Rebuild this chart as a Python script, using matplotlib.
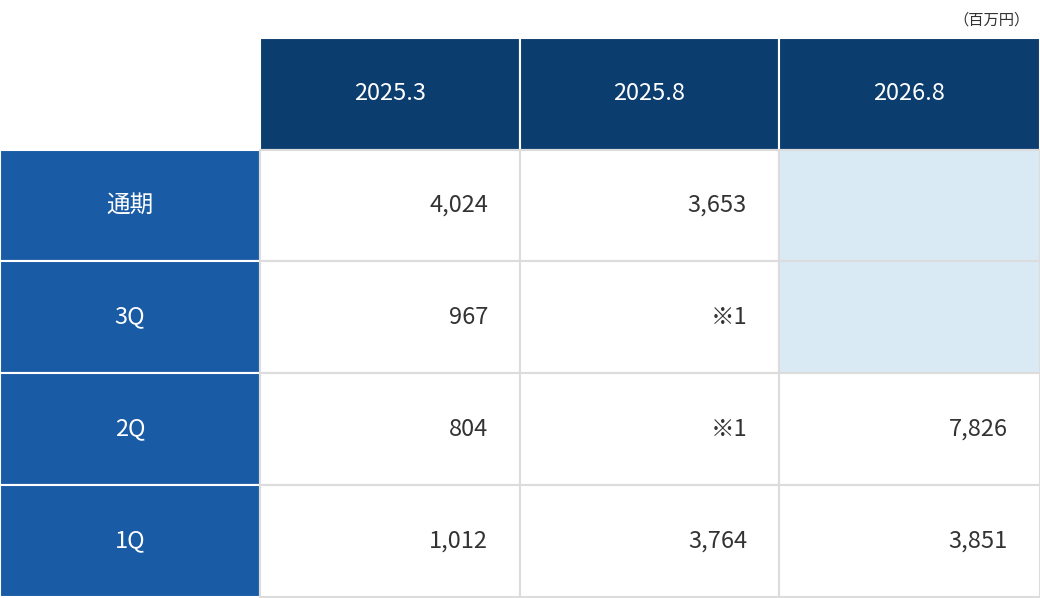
import matplotlib
matplotlib.use("Agg")
import matplotlib.pyplot as plt
from matplotlib.patches import Rectangle

plt.rcParams['font.family'] = ['Noto Sans CJK JP', 'DejaVu Sans']

columns = ["2025.3", "2025.8", "2026.8"]
rows = ["通期", "3Q", "2Q", "1Q"]
values = [
    ["4,024", "3,653", ""],
    ["967", "※1", ""],
    ["804", "※1", "7,826"],
    ["1,012", "3,764", "3,851"],
]
unit = "（百万円）"

fig = plt.figure(figsize=(10.4, 5.98), dpi=100)
ax = fig.add_axes([0, 0, 1, 1])
ax.set_xlim(0, 1040)
ax.set_ylim(598, 0)
ax.axis('off')

col_x = [0, 260, 520, 779, 1040]
row_y = [38, 150, 261, 373, 485, 597]
navy = "#0c3d6f"
blue = "#1a5ba5"
light = "#d9eaf5"
grid = "#dcdcdc"

ax.text(1030, 20, unit, ha='right', va='center', fontsize=11, color="#333333")

for j, c in enumerate(columns):
    x0, x1 = col_x[j + 1], col_x[j + 2]
    ax.add_patch(Rectangle((x0, row_y[0]), x1 - x0, row_y[1] - row_y[0],
                           facecolor=navy, edgecolor='white', lw=1.5))
    ax.text((x0 + x1) / 2, (row_y[0] + row_y[1]) / 2, c, ha='center', va='center',
            fontsize=17, color='white')

for i, r in enumerate(rows):
    y0, y1 = row_y[i + 1], row_y[i + 2]
    ax.add_patch(Rectangle((0, y0), 260, y1 - y0, facecolor=blue, edgecolor='white', lw=1.5))
    ax.text(130, (y0 + y1) / 2, r, ha='center', va='center', fontsize=17, color='white')
    for j, v in enumerate(values[i]):
        x0, x1 = col_x[j + 1], col_x[j + 2]
        fc = light if v == "" else 'white'
        ax.add_patch(Rectangle((x0, y0), x1 - x0, y1 - y0, facecolor=fc, edgecolor=grid, lw=1.5))
        if v:
            ax.text(x1 - 32, (y0 + y1) / 2, v, ha='right', va='center',
                    fontsize=17, color='#333333')

fig.savefig("out.png", dpi=100)
